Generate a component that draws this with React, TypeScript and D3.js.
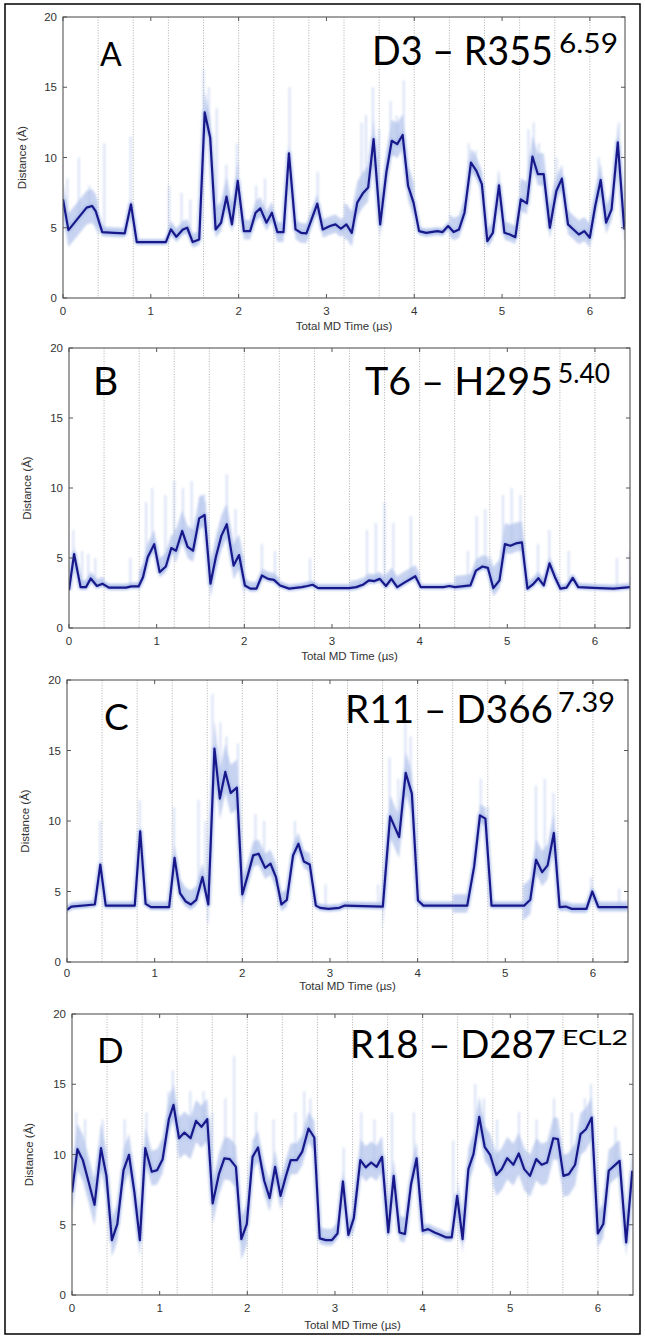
import React from 'react';
import * as d3 from 'd3';

// ---------- shared axes ----------
const xTicks = [0, 1, 2, 3, 4, 5, 6];
const yTicks = [0, 5, 10, 15, 20];
const runBounds = [0.4, 0.8, 1.2, 1.6, 2.0, 2.4, 2.8, 3.2, 3.6, 4.0, 4.4, 4.8, 5.2, 5.6, 6.0];
const timeMax = 6.4;

// ---------- Panel A: D3 – R355 ----------
const timeA = [0,0.062,0.269,0.331,0.372,0.447,0.579,0.703,0.774,0.840,1.171,1.229,1.291,1.365,1.415,1.477,1.551,1.614,1.676,1.738,1.800,1.862,1.924,1.990,2.060,2.131,2.193,2.247,2.317,2.379,2.441,2.511,2.573,2.648,2.710,2.772,2.896,2.958,3.041,3.103,3.165,3.227,3.289,3.351,3.413,3.475,3.537,3.612,3.682,3.744,3.806,3.868,3.930,3.992,4.055,4.137,4.262,4.323,4.386,4.448,4.510,4.572,4.646,4.708,4.770,4.832,4.895,4.965,5.027,5.089,5.151,5.213,5.283,5.346,5.408,5.474,5.544,5.618,5.681,5.751,5.813,5.875,5.937,5.999,6.061,6.123,6.185,6.247,6.318,6.392];
const meanA = [7.02,4.83,6.43,6.55,6.19,4.69,4.64,4.60,6.67,3.98,3.98,4.88,4.36,4.88,5.0,3.98,4.17,13.21,11.43,4.88,5.36,7.21,5.24,8.33,4.76,4.76,6.07,6.38,5.36,6.07,4.69,4.69,10.29,4.88,4.64,4.60,6.71,4.88,5.12,5.24,4.93,5.24,4.64,6.79,7.43,7.86,11.31,5.24,8.93,11.19,10.95,11.60,7.98,6.79,4.76,4.64,4.76,4.69,5.12,4.69,4.88,6.07,9.64,9.05,8.10,4.05,4.64,8.02,4.64,4.52,4.33,7.02,6.74,10.07,8.81,8.81,5.0,7.62,8.50,5.24,4.88,4.52,4.76,4.29,6.55,8.40,5.36,6.31,11.07,4.88];
const noiseUpA = [1.2,0.4,0.2,0.6,1.5,0.8,0.7,0.7,1.5,1.5,0.3,1.0,0.8,1.5,1.0,1.2];
const noiseDnA = [1.2,0.3,0.2,0.4,0.6,0.6,0.7,0.6,1.0,1.0,0.3,0.6,0.5,0.8,0.7,0.8];
const spikeTimeA = [0.05,0.18,0.3,0.47,0.77,1.21,1.35,1.45,1.6,1.66,1.75,1.86,1.98,2.2,2.3,2.58,2.9,3.4,3.45,3.53,3.6,3.73,3.8,3.88,4.62,4.7,4.96,5.3,5.36,5.42,5.62,6.1,6.33];
const spikeTopA = [8.5,10,8,11,11.5,8,7.5,7,16.3,15,13.5,9.5,11,8,8.5,15,9,12.5,13,15,12,14,13,15.5,11,10.5,9,12,12.5,11,10,10,12.5];

// ---------- Panel B: T6 – H295 ----------
const timeB = [0,0.058,0.132,0.194,0.248,0.319,0.381,0.455,0.650,0.712,0.794,0.844,0.898,0.972,1.034,1.105,1.167,1.221,1.291,1.353,1.415,1.485,1.547,1.614,1.676,1.738,1.800,1.878,1.940,2.007,2.069,2.139,2.201,2.271,2.338,2.408,2.511,2.656,2.718,2.780,2.842,3.194,3.277,3.359,3.422,3.484,3.546,3.616,3.678,3.744,3.835,3.951,4.013,4.270,4.340,4.402,4.580,4.642,4.717,4.779,4.841,4.911,4.973,5.035,5.097,5.167,5.230,5.292,5.354,5.416,5.482,5.544,5.606,5.676,5.747,5.809,5.925,6.049,6.214,6.400];
const meanB = [2.7,5.28,2.92,2.92,3.54,3.00,3.16,2.88,2.88,2.97,2.97,3.63,5.05,5.99,3.99,4.39,5.71,5.52,6.93,5.80,5.52,7.83,8.07,3.16,5.09,6.58,7.41,4.46,5.21,3.04,2.81,2.81,3.75,3.51,3.44,3.04,2.81,2.92,3.00,3.09,2.85,2.85,2.92,3.11,3.40,3.35,3.51,3.00,3.51,2.92,3.28,3.70,2.92,2.92,3.00,2.92,3.04,4.10,4.39,4.29,2.85,3.40,5.99,5.87,6.04,6.11,2.81,3.11,3.56,3.04,4.62,3.63,2.81,2.88,3.58,2.92,2.88,2.85,2.81,2.92];
const noiseUpB = [0.5,0.3,1.0,1.5,1.5,0.5,0.3,0.3,0.5,0.8,0.2,0.8,1.5,0.5,0.3,0.3];
const noiseDnB = [0.2,0.1,0.4,0.8,1.0,0.2,0.1,0.1,0.2,0.2,0.1,0.2,0.6,0.2,0.1,0.1];
const spikeTimeB = [0.05,0.15,0.22,0.3,0.7,0.88,0.95,1.1,1.2,1.3,1.4,1.5,1.55,1.8,1.9,2.2,2.35,2.75,3.4,3.5,3.6,3.7,3.9,4.55,4.65,4.75,4.95,5.05,5.15,5.35,5.48,5.7,6.25,6.4];
const spikeTopB = [7,5.5,5.3,5,5,9,10,9.5,10.5,10,10.5,9.5,9,11,8.5,6,5.5,5,7,7.5,9,7.5,8,5.5,8,8.5,9.5,10,9.5,6,7,5.5,5,5.5];

// ---------- Panel C: R11 – D366 ----------
const timeC = [0,0.05,0.318,0.38,0.442,0.773,0.835,0.897,0.959,1.165,1.227,1.289,1.351,1.413,1.475,1.545,1.612,1.682,1.744,1.806,1.868,1.938,2.0,2.062,2.124,2.186,2.260,2.322,2.384,2.446,2.508,2.579,2.640,2.702,2.769,2.839,2.888,2.983,3.107,3.169,3.603,3.686,3.789,3.864,3.934,4.004,4.066,4.566,4.645,4.711,4.773,4.843,5.215,5.285,5.351,5.421,5.483,5.554,5.620,5.690,5.760,5.926,5.992,6.062,6.4];
const meanC = [3.70,3.93,4.08,6.90,4.0,4.0,9.27,4.12,3.89,3.89,7.39,4.88,4.31,4.08,4.41,6.02,4.08,15.14,11.59,13.48,11.99,12.37,4.79,6.14,7.56,7.68,6.68,6.97,6.02,4.08,4.41,7.56,8.39,7.13,6.92,4.0,3.84,3.77,3.84,4.0,3.93,10.33,8.86,13.41,11.94,4.36,4.0,4.0,6.78,10.40,10.17,4.0,4.0,4.41,7.25,6.37,6.85,9.15,3.89,3.93,3.77,3.77,5.0,3.89,3.89];
const noiseUpC = [0.3,0.3,0.4,1.0,2.0,1.0,0.8,0.3,0.3,1.5,0.3,0.8,0.3,1.5,0.4,0.4];
const noiseDnC = [0.2,0.2,0.2,0.4,1.5,0.8,0.5,0.2,0.2,1.5,0.2,0.5,0.2,1.0,0.3,0.3];
const spikeTimeC = [0.38,0.83,1.22,1.5,1.58,1.66,1.75,1.82,1.95,2.15,2.25,2.6,2.95,3.55,3.68,3.78,3.86,3.92,4.72,4.8,5.35,5.45,5.55,5.98,6.3];
const spikeTopC = [10,11.5,11,11.5,10,19,17,16,15.5,10.5,10,10,5.5,5.5,14.5,13,17,16,13,11,12.5,13,12,6,5.2];

// ---------- Panel D: R18 – D287 ----------
const timeD = [0,0.062,0.124,0.186,0.257,0.331,0.393,0.455,0.517,0.588,0.650,0.712,0.774,0.836,0.910,0.972,1.034,1.105,1.158,1.221,1.283,1.353,1.415,1.477,1.543,1.605,1.676,1.738,1.800,1.870,1.932,1.994,2.060,2.122,2.193,2.255,2.317,2.379,2.441,2.495,2.565,2.627,2.698,2.764,2.826,2.896,2.966,3.029,3.091,3.153,3.215,3.289,3.351,3.413,3.475,3.537,3.608,3.670,3.736,3.798,3.868,3.931,4.001,4.063,4.137,4.200,4.270,4.332,4.394,4.456,4.522,4.580,4.646,4.708,4.770,4.841,4.903,4.965,5.035,5.097,5.159,5.225,5.296,5.358,5.420,5.491,5.544,5.606,5.668,5.739,5.801,5.863,5.929,5.999,6.061,6.123,6.185,6.247,6.322,6.392];
const meanD = [7.30,10.38,9.60,8.13,6.42,10.45,8.48,3.91,5.05,8.89,9.98,7.30,3.91,10.45,8.77,8.89,9.67,12.51,13.53,11.16,11.56,11.16,12.39,11.97,12.51,6.52,8.60,9.72,9.67,9.12,3.98,5.05,9.83,10.50,8.13,6.90,9.12,7.06,8.48,9.60,9.60,10.21,11.85,11.21,4.03,3.91,3.91,4.38,8.08,4.27,5.47,9.60,9.08,9.43,9.12,9.83,4.45,8.48,4.45,4.34,7.89,9.72,4.57,4.69,4.45,4.29,4.10,4.10,7.06,3.98,8.96,10.02,12.68,10.55,9.98,8.55,8.96,9.74,9.27,10.07,8.96,8.48,9.67,9.27,9.43,11.16,11.09,8.48,8.60,9.27,11.45,11.80,12.63,4.38,5.05,8.84,9.19,9.55,3.74,8.84];
const noiseUpD = [1.8,1.5,1.5,1.5,1.5,1.2,1.2,0.8,1.5,1.2,0.4,1.5,1.5,1.5,1.5,1.5];
const noiseDnD = [1.5,1.2,1.0,1.5,1.5,1.0,1.0,0.4,1.0,0.6,0.3,1.0,1.5,1.5,1.5,1.0];
const spikeTimeD = [0.05,0.15,0.35,0.6,0.85,1.1,1.15,1.35,1.5,1.6,1.75,1.85,2.1,2.3,2.55,2.65,2.72,3.1,3.3,3.45,3.65,3.9,4.35,4.6,4.7,4.85,5.1,5.3,5.5,5.7,5.85,5.92,6.2];
const spikeTopD = [13,12.5,12.5,12.5,13,14.5,16,14.5,14.5,13,14,17,13,12.5,13,14.5,14,10.5,13,12.5,13,13,11,15,14,12.5,13,12.5,14,13,14,15,12];

type Series = { t: number[]; v: number[]; up: number[]; dn: number[]; st: number[]; sv: number[] };

const seriesA: Series = { t: timeA, v: meanA, up: noiseUpA, dn: noiseDnA, st: spikeTimeA, sv: spikeTopA };
const seriesB: Series = { t: timeB, v: meanB, up: noiseUpB, dn: noiseDnB, st: spikeTimeB, sv: spikeTopB };
const seriesC: Series = { t: timeC, v: meanC, up: noiseUpC, dn: noiseDnC, st: spikeTimeC, sv: spikeTopC };
const seriesD: Series = { t: timeD, v: meanD, up: noiseUpD, dn: noiseDnD, st: spikeTimeD, sv: spikeTopD };

type Layout = {
  left: number; right: number; top: number; bottom: number;
  tickBase: number; labelBase: number; yLabelX: number;
  letter: string; letterX: number; letterBase: number; letterSize: number;
  main: string; mainX: number; mainEnd: number; mainBase: number; mainSize: number;
  sup: string; supX: number; supEnd: number; supBase: number; supSize: number;
};

const layouts: Layout[] = [
  { left: 63, right: 625, top: 17, bottom: 298, tickBase: 315, labelBase: 330, yLabelX: 22,
    letter: 'A', letterX: 100, letterBase: 66, letterSize: 32,
    main: 'D3 – R355', mainX: 372, mainEnd: 553, mainBase: 65, mainSize: 40,
    sup: '6.59', supX: 559, supEnd: 618, supBase: 53, supSize: 27 },
  { left: 69, right: 630, top: 348, bottom: 628, tickBase: 645, labelBase: 660, yLabelX: 27,
    letter: 'B', letterX: 93, letterBase: 395, letterSize: 39,
    main: 'T6 – H295', mainX: 365, mainEnd: 553, mainBase: 395, mainSize: 39,
    sup: '5.40', supX: 558, supEnd: 610, supBase: 383, supSize: 26 },
  { left: 67, right: 628, top: 680, bottom: 962, tickBase: 977, labelBase: 990, yLabelX: 25,
    letter: 'C', letterX: 104, letterBase: 730, letterSize: 37,
    main: 'R11 – D366', mainX: 345, mainEnd: 553, mainBase: 723, mainSize: 38,
    sup: '7.39', supX: 558, supEnd: 615, supBase: 712, supSize: 26 },
  { left: 72, right: 633, top: 1014, bottom: 1295, tickBase: 1312, labelBase: 1329, yLabelX: 29,
    letter: 'D', letterX: 97, letterBase: 1063, letterSize: 35,
    main: 'R18 – D287', mainX: 350, mainEnd: 556, mainBase: 1058, mainSize: 39,
    sup: 'ECL2', supX: 562, supEnd: 628, supBase: 1045, supSize: 21 },
];

const allSeries = [seriesA, seriesB, seriesC, seriesD];

const TITLE_FONT = 'Lato, "Open Sans", sans-serif';
const AXIS_FONT = '"Liberation Sans", Arial, sans-serif';

type Pt = { t: number; v: number };

function Panel({ L, S, id }: { L: Layout; S: Series; id: string }) {
  const x = d3.scaleLinear().domain([0, timeMax]).range([L.left, L.right]);
  const y = d3.scaleLinear().domain([0, 20]).range([L.bottom, L.top]);
  const meanAt = d3.scaleLinear().domain(S.t).range(S.v).clamp(true);
  const pts: Pt[] = S.t.map((t, i) => ({ t, v: S.v[i] }));
  const starts = [0, ...runBounds];
  const ends = [...runBounds, timeMax];
  const line = d3.line<Pt>().x(p => x(p.t)).y(p => y(p.v));
  const bands = starts.map((b0, r) => {
    const b1 = ends[r];
    const seg: Pt[] = [{ t: b0, v: meanAt(b0) }, ...pts.filter(p => p.t > b0 && p.t < b1), { t: b1, v: meanAt(b1) }];
    const area = d3.area<Pt>().x(p => x(p.t)).y0(p => y(p.v - S.dn[r])).y1(p => y(p.v + S.up[r]));
    return area(seg) || '';
  });
  const tick = 4;
  return (
    <g>
      <defs>
        <clipPath id={id}>
          <rect x={L.left} y={L.top} width={L.right - L.left} height={L.bottom - L.top} />
        </clipPath>
      </defs>
      <rect x={L.left} y={L.top} width={L.right - L.left} height={L.bottom - L.top} fill="#fff" />
      {runBounds.map(b => (
        <line key={b} x1={x(b)} x2={x(b)} y1={L.top} y2={L.bottom}
          stroke="#9a9a9a" strokeWidth={0.8} strokeDasharray="1 1.6" />
      ))}
      <g clipPath={`url(#${id})`}>
        <g filter="url(#soft)">
          {S.st.map((t, i) => (
            <line key={i} x1={x(t)} x2={x(t)} y1={y(meanAt(t))} y2={y(S.sv[i])}
              stroke="#9db3e6" strokeWidth={1.8} strokeOpacity={0.45} />
          ))}
          {bands.map((d, r) => <path key={r} d={d} fill="#afc1ea" fillOpacity={0.7} />)}
          <path d={line(pts) || ''} fill="none" stroke="#a3b7e7" strokeWidth={5} strokeOpacity={0.7} strokeLinejoin="round" />
        </g>
        <path d={line(pts) || ''} fill="none" stroke="#18188a" strokeWidth={2.2} strokeLinejoin="round" />
      </g>
      <rect x={L.left} y={L.top} width={L.right - L.left} height={L.bottom - L.top}
        fill="none" stroke="#555" strokeWidth={1.1} />
      {xTicks.map(v => (
        <g key={'x' + v}>
          <line x1={x(v)} x2={x(v)} y1={L.bottom} y2={L.bottom - tick} stroke="#555" />
          <line x1={x(v)} x2={x(v)} y1={L.top} y2={L.top + tick} stroke="#555" />
          <text x={x(v)} y={L.tickBase} textAnchor="middle" fontSize={11.5} fill="#333" fontFamily={AXIS_FONT}>{v}</text>
        </g>
      ))}
      {yTicks.map(v => (
        <g key={'y' + v}>
          <line x1={L.left} x2={L.left + tick} y1={y(v)} y2={y(v)} stroke="#555" />
          <line x1={L.right} x2={L.right - tick} y1={y(v)} y2={y(v)} stroke="#555" />
          <text x={L.left - 6} y={y(v) + 4} textAnchor="end" fontSize={11.5} fill="#333" fontFamily={AXIS_FONT}>{v}</text>
        </g>
      ))}
      <text x={(L.left + L.right) / 2} y={L.labelBase} textAnchor="middle" fontSize={11.5} fill="#333" fontFamily={AXIS_FONT}>
        Total MD Time (µs)
      </text>
      <text transform={`translate(${L.yLabelX + 4},${(L.top + L.bottom) / 2}) rotate(-90)`} textAnchor="middle"
        fontSize={11.5} fill="#333" fontFamily={AXIS_FONT}>
        Distance (Å)
      </text>
      <text x={L.letterX} y={L.letterBase} fontSize={L.letterSize} fill="#000" fontFamily={TITLE_FONT}>{L.letter}</text>
      <text fill="#000" fontFamily={TITLE_FONT}>
        <tspan x={L.mainX} y={L.mainBase} fontSize={L.mainSize}
          textLength={L.mainEnd - L.mainX} lengthAdjust="spacingAndGlyphs">{L.main}</tspan>
        <tspan x={L.supX} y={L.supBase} fontSize={L.supSize}
          textLength={L.supEnd - L.supX} lengthAdjust="spacingAndGlyphs">{L.sup}</tspan>
      </text>
    </g>
  );
}

export default function App() {
  return (
    <svg width={645} height={1337} viewBox="0 0 645 1337"
      style={{ position: 'absolute', left: 0, top: 0, display: 'block', background: '#fff' }}>
      <defs>
        <filter id="soft" x="-5%" y="-5%" width="110%" height="110%">
          <feGaussianBlur stdDeviation="0.8" />
        </filter>
      </defs>
      <rect x={0} y={0} width={645} height={1337} fill="#fff" />
      <rect x={5} y={4} width={635} height={1330} fill="none" stroke="#000" strokeWidth={1.5} />
      {layouts.map((L, i) => (
        <Panel key={i} L={L} S={allSeries[i]} id={`clip${i}`} />
      ))}
    </svg>
  );
}
